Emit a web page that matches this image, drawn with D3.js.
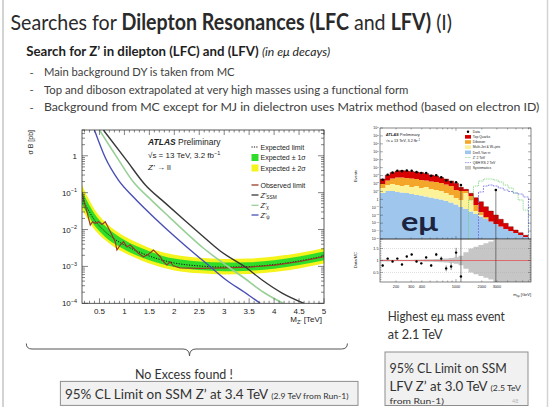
<!DOCTYPE html>
<html>
<head>
<meta charset="utf-8">
<script src="https://d3js.org/d3.v7.min.js"></script>
<style>
  body { margin: 0; background: #fff; }
  svg { display: block; }
</style>
</head>
<body>
<svg id="slide" width="550" height="407"></svg>
<script>
// ---------- limit plot (left) ----------
var limitMass = [0.15, 0.2, 0.3, 0.4, 0.5, 0.6, 0.8, 1.0, 1.25, 1.5, 1.75, 2.0, 2.5, 3.0, 3.5, 4.0, 4.5, 5.0];
var expLimit = [0.0715, 0.0522, 0.0298, 0.0181, 0.01245, 0.0091, 0.00553, 0.0038, 0.00261, 0.00191, 0.00149, 0.00124, 0.00103, 0.00096, 0.00099, 0.00112, 0.0014, 0.00191];
var exp1Up = [0.1133, 0.0809, 0.0451, 0.0268, 0.0180, 0.01315, 0.00781, 0.00524, 0.00352, 0.00258, 0.00196, 0.00163, 0.00136, 0.00127, 0.00130, 0.00148, 0.00185, 0.00252];
var exp1Down = [0.0483, 0.0361, 0.0211, 0.0128, 0.00902, 0.00659, 0.0041, 0.00288, 0.00198, 0.00148, 0.00116, 0.00096, 0.0008, 0.000745, 0.000769, 0.00087, 0.00109, 0.00148];
var exp2Up = [0.1638, 0.1142, 0.0609, 0.0353, 0.02318, 0.01656, 0.00983, 0.0066, 0.00443, 0.00317, 0.00247, 0.00206, 0.00171, 0.00159, 0.00164, 0.00186, 0.00232, 0.00317];
var exp2Down = [0.0358, 0.0268, 0.016, 0.00995, 0.00716, 0.00536, 0.00333, 0.00234, 0.00165, 0.0012, 0.00094, 0.00078, 0.00065, 0.000606, 0.000625, 0.000707, 0.00088, 0.0012];

var obsMass = [0.15, 0.17, 0.25, 0.316, 0.362, 0.416, 0.482, 0.55, 0.616, 0.682, 0.75, 0.816, 0.85, 0.916, 0.982, 1.05, 1.116, 1.182, 1.282, 1.382, 1.482, 1.582, 1.65, 1.716, 1.782, 1.85, 1.916, 1.98, 2.116, 2.516, 3.016, 3.516, 4.016, 4.516, 5.0];
var obsLimit = [0.1, 0.075, 0.0303, 0.0132, 0.0163, 0.0147, 0.0163, 0.0138, 0.0163, 0.0108, 0.0071, 0.00467, 0.00278, 0.0038, 0.00467, 0.00342, 0.0038, 0.0031, 0.00226, 0.00183, 0.00213, 0.00278, 0.00226, 0.00183, 0.00134, 0.00109, 0.00132, 0.00104, 0.00091, 0.00088, 0.00091, 0.00096, 0.00109, 0.00136, 0.00185];

var ssmMass = [0.58, 1.04, 1.42, 1.82, 2.2, 2.52, 2.92, 3.45, 3.76, 4.16, 4.6];
var ssmXsec = [4.97, 0.76, 0.161, 0.052, 0.0181, 0.00755, 0.00261, 0.000906, 0.000428, 0.00019, 0.0001];
var chiMass = [0.5, 0.86, 1.18, 1.54, 1.9, 2.2, 2.58, 3.08, 3.4, 3.78, 4.18];
var chiXsec = [4.97, 0.867, 0.194, 0.063, 0.0218, 0.0091, 0.00316, 0.00098, 0.000485, 0.000202, 0.0001];
var psiMass = [0.4, 0.62, 0.88, 1.18, 1.5, 1.82, 2.18, 2.72, 3.04, 3.4, 3.72];
var psiXsec = [4.97, 0.867, 0.219, 0.076, 0.028, 0.011, 0.00405, 0.00098, 0.000428, 0.000202, 0.0001];

var limitXTicks = [0.5, 1, 1.5, 2, 2.5, 3, 3.5, 4, 4.5, 5];
var limitYTicks = [1, 1e-1, 1e-2, 1e-3, 1e-4];

// ---------- e-mu mass plot (right) ----------
var binEdges = [130, 150, 170, 195, 220, 250, 285, 325, 370, 420, 480, 550, 630, 720, 820, 940, 1070, 1220, 1400, 1600, 1830, 2090, 2390, 2730, 3120, 3560, 4070, 4650, 5310, 6070, 7000];
var dyTauTau = [6.3, 11.3, 11.3, 8.5, 7.3, 6.3, 4.7, 3.5, 3.1, 2.3, 1.7, 1.3, 0.96, 0.62, 0.40, 0.22, 0.11, 0.061, 0.029, 0.0142, 0.0069, 0.0033, 0.0016, 0.00078, 0.00038, 0.00018, 0.0001, 0.000057, 0.000032, 0.000018];
var multiJet = [20.7, 53, 75, 56, 41, 58, 31, 45, 24, 34, 18.5, 13.8, 10.3, 5.7, 3.1, 1.26, 0.72, 6.2, 0.8, 0.02, 0.0037, 0.0005, 0, 0, 0, 0, 0, 0, 0, 0];
var diboson = [59, 174, 340, 505, 521, 428, 390, 320, 248, 202, 158, 139, 104, 68, 44.7, 13.6, 10.5, 5.0, 1.81, 0.16, 0.0148, 0.0021, 0, 0, 0, 0, 0, 0, 0, 0];
var topQuark = [282, 937, 2000, 3190, 3780, 3270, 2820, 2440, 2155, 1580, 997, 726, 454, 294, 158, 91, 21.7, 7.2, 3.16, 1.42, 0.48, 0.112, 0.032, 0.0098, 0.0027, 0.00077, 0.00026, 0.000079, 0.00003, 0.000011];
var dataEvents = [291, 1269, 2333, 4061, 3606, 4399, 4063, 2698, 2138, 2057, 928, 1100, 615, 247, 155, 141, 64, null, null, null, null, null, null, 15, null, null, null, null, null, null];
var dataLower = [null, null, null, null, null, null, null, null, null, null, null, null, null, null, null, null, 1e-6, null, null, null, null, null, null, 1e-6, null, null, null, null, null, null];
var zPrime2TeV = [null, null, null, null, null, null, null, null, null, null, null, null, null, null, null, null, null, null, 0.83, 48, 206, 368, 368, 275, 154, 64, 27, 6.3, 0.83, 0.045];
var qbhRS2TeV = [null, null, null, null, null, null, null, null, null, null, null, null, null, null, null, null, null, null, null, null, 8.45, 48, 64, 48, 27, 15.1, 9.8, 6.3, 4.7, 2.0];
var ratioVal = [0.79, 1.08, 0.96, 1.08, 0.83, 1.17, 1.25, 0.96, 0.88, 1.13, 0.79, 1.25, 1.08, 0.67, 0.75, 1.33, 0.33, null, null, null, null, null, null, 1400, null, null, null, null, null, null];
var ratioErrUp = [0.05, 0.03, 0.03, 0.03, 0.03, 0.03, 0.03, 0.04, 0.04, 0.05, 0.06, 0.07, 0.09, 0.12, 0.15, 0.2, 2.0, null, null, null, null, null, null, 10000, null, null, null, null, null, null];
var ratioErrDown = [0.05, 0.03, 0.03, 0.03, 0.03, 0.03, 0.03, 0.04, 0.04, 0.05, 0.06, 0.07, 0.09, 0.12, 0.15, 0.2, 0.25, null, null, null, null, null, null, 1400, null, null, null, null, null, null];
var systRel = [0.04, 0.04, 0.03, 0.03, 0.03, 0.03, 0.03, 0.04, 0.04, 0.05, 0.05, 0.06, 0.07, 0.08, 0.1, 0.14, 0.2, 0.35, 0.5, 0.58, 0.65, 0.72, 0.8, 1, 1, 1, 1, 1, 1, 1];
var massXLabels = [200, 300, 400, 1000, 2000, 3000];
var ratioYLabels = [0.5, 1, 1.5];

var PLOT_FONT = "'Liberation Sans', Arial, sans-serif";
var SLIDE_FONT = "Lato, 'Open Sans', sans-serif";

var svg = d3.select("#slide");
svg.append("rect").attr("width", 550).attr("height", 407).attr("fill", "#fff");
svg.append("line").attr("x1", 3).attr("x2", 3).attr("y1", 0).attr("y2", 407).attr("stroke", "#c4c4c4").attr("stroke-width", 1.5);
svg.append("line").attr("x1", 547.5).attr("x2", 547.5).attr("y1", 0).attr("y2", 407).attr("stroke", "#d4d4d4").attr("stroke-width", 1.5);

/* squeeze a text element horizontally so it spans w pixels */
function fit(t, w) {
    var len = t.node().getComputedTextLength();
    var x = +t.attr("x"), y = +t.attr("y");
    t.attr("transform", "translate(" + x + "," + y + ") scale(" + (w / len) + ",1) translate(" + (-x) + "," + (-y) + ")");
}

function slideText(x, y, size, parts, width, color) {
    var t = svg.append("text")
        .attr("x", x).attr("y", y)
        .attr("font-family", SLIDE_FONT)
        .attr("font-size", size)
        .attr("fill", color || "#333");
    parts.forEach(function (p) {
        t.append("tspan").text(p.t)
            .attr("font-weight", p.b ? "bold" : null)
            .attr("font-style", p.i ? "italic" : null)
            .attr("font-size", p.s || null);
    });
    if (width) fit(t, width);
    return t;
}

// power of ten label: "10" with superscript
function powLabel(g, x, y, exp, size, anchor) {
    var t = g.append("text").attr("x", x).attr("y", y)
        .attr("font-family", PLOT_FONT).attr("font-size", size)
        .attr("text-anchor", anchor || "end").attr("fill", "#222");
    if (exp == 0) { t.text("1"); return t; }
    t.append("tspan").text("10");
    t.append("tspan").text(exp).attr("font-size", size * 0.68).attr("dy", -size * 0.4);
    return t;
}

function logTicks(lo, hi) {
    var out = [];
    for (var e = Math.floor(Math.log10(lo)); e <= Math.ceil(Math.log10(hi)); e++) {
        for (var k = 1; k < 10; k++) {
            var v = k * Math.pow(10, e);
            if (v >= lo * 0.999 && v <= hi * 1.001) out.push({v: v, major: k == 1});
        }
    }
    return out;
}

// ---------- slide texts ----------
slideText(10.5, 30, 22, [{t: "Searches for "}, {t: "Dilepton Resonances (LFC", b: 1}, {t: " and "}, {t: "LFV)", b: 1}, {t: " (I)"}], 442, "#2a2a2a");
slideText(26.3, 56.5, 12.5, [{t: "Search for Z\u2019 in dilepton (LFC) and (LFV) ", b: 1}, {t: "(in e\u03bc decays)", i: 1, s: 11.5}], 304, "#1e1e1e");

var bullets = [
    ["Main background DY is taken from MC", 76.5, 191],
    ["Top and diboson extrapolated at very high masses using a functional form", 94, 365],
    ["Background from MC except for MJ in dielectron uses Matrix method (based on electron ID)", 111.5, 496]
];
bullets.forEach(function (b) {
    slideText(29.5, b[1], 11.5, [{t: "-"}], null, "#555");
    slideText(43.9, b[1], 11.5, [{t: b[0]}], b[2], "#404040");
});

// ---------- left plot ----------
var xM = d3.scaleLinear().domain([0.15, 5]).range([82, 324]);
var yM = d3.scaleLog().domain([1e-4, 5]).range([303.3, 130]);

var defs = svg.append("defs");
defs.append("clipPath").attr("id", "clipM").append("rect")
    .attr("x", 82).attr("y", 130).attr("width", 242).attr("height", 173.3);

var gM = svg.append("g");
var gMc = gM.append("g").attr("clip-path", "url(#clipM)");

var band = function (up, down) {
    return d3.area()
        .x(function (d, i) { return xM(limitMass[i]); })
        .y0(function (d, i) { return yM(down[i]); })
        .y1(function (d, i) { return yM(up[i]); })
        .curve(d3.curveMonotoneX);
};
gMc.append("path").datum(limitMass).attr("d", band(exp2Up, exp2Down)).attr("fill", "#f5f31c");
gMc.append("path").datum(limitMass).attr("d", band(exp1Up, exp1Down)).attr("fill", "#2fdc2a");

gMc.append("path").datum(limitMass)
    .attr("d", d3.line().x(function (d, i) { return xM(limitMass[i]); }).y(function (d, i) { return yM(expLimit[i]); }).curve(d3.curveMonotoneX))
    .attr("fill", "none").attr("stroke", "#111").attr("stroke-width", 1).attr("stroke-dasharray", "1.2,1.4");

gMc.append("path").datum(obsMass)
    .attr("d", d3.line().x(function (d, i) { return xM(obsMass[i]); }).y(function (d, i) { return yM(obsLimit[i]); }))
    .attr("fill", "none").attr("stroke", "#9a3a26").attr("stroke-width", 1.2);

var theory = [
    {m: psiMass, s: psiXsec, c: "#4a4fb5", w: 1.4},
    {m: chiMass, s: chiXsec, c: "#98d098", w: 1.6},
    {m: ssmMass, s: ssmXsec, c: "#383838", w: 1.4}
];
theory.forEach(function (th) {
    gMc.append("path").datum(th.m)
        .attr("d", d3.line().x(function (d, i) { return xM(th.m[i]); }).y(function (d, i) { return yM(th.s[i]); }).curve(d3.curveMonotoneX))
        .attr("fill", "none").attr("stroke", th.c).attr("stroke-width", th.w);
});

// frame and ticks
gM.append("rect").attr("x", 82).attr("y", 130).attr("width", 242).attr("height", 173.3)
    .attr("fill", "none").attr("stroke", "#333").attr("stroke-width", 0.8);

var xMinor = d3.range(2, 51).map(function (k) { return k / 10; });
xMinor.forEach(function (v) {
    var major = Math.abs(v * 2 - Math.round(v * 2)) < 1e-6;
    var len = major ? 5 : 2.5;
    gM.append("line").attr("x1", xM(v)).attr("x2", xM(v)).attr("y1", 303.3).attr("y2", 303.3 - len).attr("stroke", "#333").attr("stroke-width", 0.6);
    gM.append("line").attr("x1", xM(v)).attr("x2", xM(v)).attr("y1", 130).attr("y2", 130 + len).attr("stroke", "#333").attr("stroke-width", 0.6);
});
logTicks(1e-4, 5).forEach(function (t) {
    var len = t.major ? 6 : 3;
    gM.append("line").attr("x1", 82).attr("x2", 82 + len).attr("y1", yM(t.v)).attr("y2", yM(t.v)).attr("stroke", "#333").attr("stroke-width", 0.6);
    gM.append("line").attr("x1", 324).attr("x2", 324 - len).attr("y1", yM(t.v)).attr("y2", yM(t.v)).attr("stroke", "#333").attr("stroke-width", 0.6);
});
limitXTicks.forEach(function (v) {
    gM.append("text").attr("x", xM(v)).attr("y", 313.5).attr("text-anchor", "middle")
        .attr("font-family", PLOT_FONT).attr("font-size", 8).attr("fill", "#222").text(v);
});
limitYTicks.forEach(function (v) {
    powLabel(gM, 77, yM(v) + 3, Math.round(Math.log10(v)) == 0 ? 0 : "\u2212" + (-Math.round(Math.log10(v))), 8);
});

var xt = gM.append("text").attr("x", 322).attr("y", 322).attr("text-anchor", "end")
    .attr("font-family", PLOT_FONT).attr("font-size", 8).attr("fill", "#222");
xt.append("tspan").text("M");
xt.append("tspan").text("Z\u2019").attr("font-size", 5.5).attr("dy", 2);
xt.append("tspan").text(" [TeV]").attr("dy", -2);

gM.append("text").attr("transform", "translate(33,130) rotate(-90)").attr("text-anchor", "end")
    .attr("font-family", PLOT_FONT).attr("font-size", 7).attr("fill", "#222").text("\u03c3 B [pb]");

// ATLAS label
var at = gM.append("text").attr("x", 148).attr("y", 145).attr("font-family", PLOT_FONT).attr("font-size", 8.5).attr("fill", "#222");
at.append("tspan").text("ATLAS").attr("font-weight", "bold").attr("font-style", "italic");
at.append("tspan").text(" Preliminary");
var at2 = gM.append("text").attr("x", 148).attr("y", 158).attr("font-family", PLOT_FONT).attr("font-size", 8).attr("fill", "#222");
at2.append("tspan").text("\u221as = 13 TeV, 3.2 fb");
at2.append("tspan").text("\u22121").attr("font-size", 5.5).attr("dy", -3);
var at3 = gM.append("text").attr("x", 148).attr("y", 170).attr("font-family", PLOT_FONT).attr("font-size", 8).attr("fill", "#222");
at3.append("tspan").text("Z\u2019").attr("font-style", "italic");
at3.append("tspan").text(" \u2192 ll");

// legend
var legM = [
    {y: 147, kind: "dash", c: "#111", label: "Expected limit"},
    {y: 157.5, kind: "box", c: "#2fdc2a", label: "Expected \u00b1 1\u03c3"},
    {y: 168, kind: "box", c: "#f5f31c", label: "Expected \u00b1 2\u03c3"},
    {y: 185, kind: "line", c: "#9a3a26", label: "Observed limit"},
    {y: 195, kind: "line", c: "#383838", label: "Z\u2019", sub: "SSM"},
    {y: 205.3, kind: "line", c: "#98d098", label: "Z\u2019", sub: "\u03c7"},
    {y: 215, kind: "line", c: "#4a4fb5", label: "Z\u2019", sub: "\u03c8"}
];
legM.forEach(function (l) {
    if (l.kind == "box") {
        gM.append("rect").attr("x", 251.5).attr("y", l.y - 3.5).attr("width", 7).attr("height", 7).attr("fill", l.c);
    } else {
        gM.append("line").attr("x1", 251.5).attr("x2", 258.5).attr("y1", l.y).attr("y2", l.y)
            .attr("stroke", l.c).attr("stroke-width", l.kind == "dash" ? 1 : 1.3)
            .attr("stroke-dasharray", l.kind == "dash" ? "1.2,1.2" : null);
    }
    var t = gM.append("text").attr("x", 260.5).attr("y", l.y + 2.5)
        .attr("font-family", PLOT_FONT).attr("font-size", 7).attr("fill", "#222");
    if (l.sub) {
        t.append("tspan").text(l.label).attr("font-style", "italic");
        t.append("tspan").text(l.sub).attr("font-size", 4.8).attr("dy", 1.5);
    } else {
        t.text(l.label);
    }
});

// ---------- right plot ----------
var xR = d3.scaleLog().domain([130, 7500]).range([380, 531]);
var yR = d3.scaleLog().domain([1e-5, 1e9]).range([239, 128]).clamp(true);
var yRat = d3.scaleLinear().domain([0.1, 1.9]).range([282, 239]);

defs.append("clipPath").attr("id", "clipR").append("rect").attr("x", 380).attr("y", 128).attr("width", 151).attr("height", 111);
defs.append("clipPath").attr("id", "clipRat").append("rect").attr("x", 380).attr("y", 239).attr("width", 151).attr("height", 43);

var gR = svg.append("g");
var gRc = gR.append("g").attr("clip-path", "url(#clipR)");

var bins = binEdges.slice(0, -1).map(function (lo, i) {
    return {lo: lo, hi: binEdges[i + 1], dy: dyTauTau[i], mj: multiJet[i], vv: diboson[i], top: topQuark[i]};
});
var stack = d3.stack().keys(["dy", "mj", "vv", "top"])(bins);
var layerColor = {dy: "#9fc7ee", mj: "#fbf29a", vv: "#f3a62a", top: "#d80000"};

function stepPoints(arr) {
    var pts = arr.map(function (d) { return {x: d.data.lo, y0: d[0], y1: d[1]}; });
    var last = arr[arr.length - 1];
    pts.push({x: last.data.hi, y0: last[0], y1: last[1]});
    return pts;
}
var stepArea = d3.area()
    .x(function (d) { return xR(d.x); })
    .y0(function (d) { return yR(Math.max(d.y0, 1e-6)); })
    .y1(function (d) { return yR(Math.max(d.y1, 1e-6)); })
    .curve(d3.curveStepAfter);
stack.forEach(function (layer) {
    gRc.append("path").datum(stepPoints(layer)).attr("d", stepArea).attr("fill", layerColor[layer.key]);
});
// dark outline on top of the stack
gRc.append("path").datum(stepPoints(stack[3]))
    .attr("d", d3.line().x(function (d) { return xR(d.x); }).y(function (d) { return yR(d.y1); }).curve(d3.curveStepAfter))
    .attr("fill", "none").attr("stroke", "#6a0000").attr("stroke-width", 0.4);

// signal histograms
function signalPath(vals) {
    var pts = [];
    var first = -1, last = -1;
    vals.forEach(function (v, i) {
        if (v == null) return;
        if (first < 0) { first = i; pts.push({x: binEdges[i], v: 1e-6}); }
        pts.push({x: binEdges[i], v: v});
        last = i;
    });
    pts.push({x: binEdges[last + 1], v: vals[last]});
    pts.push({x: binEdges[last + 1], v: 1e-6});
    return d3.line().x(function (d) { return xR(d.x); }).y(function (d) { return yR(d.v); }).curve(d3.curveLinear)(
        pts.reduce(function (acc, p, i) {
            if (i > 0 && p.x != acc[acc.length - 1].x) acc.push({x: p.x, v: acc[acc.length - 1].v});
            acc.push(p);
            return acc;
        }, []));
}
gRc.append("path").attr("d", signalPath(zPrime2TeV)).attr("fill", "none").attr("stroke", "#6ccf6c").attr("stroke-width", 0.8).attr("stroke-dasharray", "1,0.8");
gRc.append("path").attr("d", signalPath(qbhRS2TeV)).attr("fill", "none").attr("stroke", "#7070e0").attr("stroke-width", 0.8).attr("stroke-dasharray", "2,1");

// big e-mu label
var emu = svg.append("text").attr("x", 401).attr("y", 231).attr("font-family", SLIDE_FONT)
    .attr("font-weight", "bold").attr("font-size", 27).attr("fill", "#1b2440").text("e\u03bc");
fit(emu, 37);

// data points
dataEvents.forEach(function (n, i) {
    if (n == null) return;
    var cx = xR(Math.sqrt(binEdges[i] * binEdges[i + 1]));
    if (dataLower[i] != null) {
        gRc.append("line").attr("x1", cx).attr("x2", cx).attr("y1", yR(n)).attr("y2", yR(dataLower[i]))
            .attr("stroke", "#333").attr("stroke-width", 0.6);
    }
    gRc.append("circle").attr("cx", cx).attr("cy", yR(n)).attr("r", 1.3).attr("fill", "#000");
});

gR.append("rect").attr("x", 380).attr("y", 128).attr("width", 151).attr("height", 111)
    .attr("fill", "none").attr("stroke", "#333").attr("stroke-width", 0.6);

// ratio panel
var gRat = gR.append("g");
var gRatc = gRat.append("g").attr("clip-path", "url(#clipRat)");
var systPts = bins.map(function (b, i) { return {x: b.lo, y0: 1 - systRel[i], y1: 1 + systRel[i]}; });
systPts.push({x: binEdges[binEdges.length - 1], y0: 1 - systRel[systRel.length - 1], y1: 1 + systRel[systRel.length - 1]});
systPts.push({x: 7500, y0: 0, y1: 2});
gRatc.append("path").datum(systPts)
    .attr("d", d3.area().x(function (d) { return xR(d.x); }).y0(function (d) { return yRat(d.y0); }).y1(function (d) { return yRat(d.y1); }).curve(d3.curveStepAfter))
    .attr("fill", "#c6c6c6");
[0.5, 1.5].forEach(function (v) {
    gRatc.append("line").attr("x1", 380).attr("x2", 531).attr("y1", yRat(v)).attr("y2", yRat(v))
        .attr("stroke", "#aaa").attr("stroke-width", 0.4).attr("stroke-dasharray", "1,1");
});
gRatc.append("line").attr("x1", 380).attr("x2", 531).attr("y1", yRat(1)).attr("y2", yRat(1))
    .attr("stroke", "#e06060").attr("stroke-width", 0.9);
ratioVal.forEach(function (r, i) {
    if (r == null) return;
    var cx = xR(Math.sqrt(binEdges[i] * binEdges[i + 1]));
    gRatc.append("line").attr("x1", cx).attr("x2", cx)
        .attr("y1", yRat(Math.min(r + ratioErrUp[i], 3))).attr("y2", yRat(Math.max(r - ratioErrDown[i], -1)))
        .attr("stroke", "#333").attr("stroke-width", 0.6);
    if (r < 2) gRatc.append("circle").attr("cx", cx).attr("cy", yRat(r)).attr("r", 1.2).attr("fill", "#000");
});
gRat.append("rect").attr("x", 380).attr("y", 239).attr("width", 151).attr("height", 43)
    .attr("fill", "none").attr("stroke", "#333").attr("stroke-width", 0.6);

// right plot ticks
logTicks(130, 7500).forEach(function (t) {
    var len = t.major ? 3 : 1.5;
    [[239, -1], [128, 1], [282, -1]].forEach(function (s) {
        gR.append("line").attr("x1", xR(t.v)).attr("x2", xR(t.v)).attr("y1", s[0]).attr("y2", s[0] + s[1] * len)
            .attr("stroke", "#333").attr("stroke-width", 0.4);
    });
});
d3.range(-5, 10).forEach(function (e) {
    var y = yR(Math.pow(10, e));
    gR.append("line").attr("x1", 380).attr("x2", 383).attr("y1", y).attr("y2", y).attr("stroke", "#333").attr("stroke-width", 0.4);
    gR.append("line").attr("x1", 531).attr("x2", 528).attr("y1", y).attr("y2", y).attr("stroke", "#333").attr("stroke-width", 0.4);
    powLabel(gR, 378.5, y + 1.3, e < 0 ? "\u2212" + (-e) : e, 3.6);
});
d3.range(0.2, 1.85, 0.1).forEach(function (v) {
    var major = Math.abs(v * 2 - Math.round(v * 2)) < 1e-6;
    var len = major ? 3 : 1.5;
    gR.append("line").attr("x1", 380).attr("x2", 380 + len).attr("y1", yRat(v)).attr("y2", yRat(v)).attr("stroke", "#333").attr("stroke-width", 0.4);
    gR.append("line").attr("x1", 531).attr("x2", 531 - len).attr("y1", yRat(v)).attr("y2", yRat(v)).attr("stroke", "#333").attr("stroke-width", 0.4);
});
ratioYLabels.forEach(function (v) {
    gR.append("text").attr("x", 378.5).attr("y", yRat(v) + 1.3).attr("text-anchor", "end")
        .attr("font-family", PLOT_FONT).attr("font-size", 3.8).attr("fill", "#222").text(v);
});
massXLabels.forEach(function (v) {
    gR.append("text").attr("x", xR(v)).attr("y", 287.5).attr("text-anchor", "middle")
        .attr("font-family", PLOT_FONT).attr("font-size", 3.8).attr("fill", "#222").text(v);
});
var mt = gR.append("text").attr("x", 531).attr("y", 296).attr("text-anchor", "end")
    .attr("font-family", PLOT_FONT).attr("font-size", 4).attr("fill", "#222");
mt.append("tspan").text("m");
mt.append("tspan").text("e\u03bc").attr("font-size", 2.8).attr("dy", 1);
mt.append("tspan").text(" [GeV]").attr("dy", -1);
gR.append("text").attr("transform", "translate(357,176) rotate(-90)").attr("text-anchor", "middle")
    .attr("font-family", PLOT_FONT).attr("font-size", 4).attr("fill", "#222").text("Events");
gR.append("text").attr("transform", "translate(357,260) rotate(-90)").attr("text-anchor", "middle")
    .attr("font-family", PLOT_FONT).attr("font-size", 4).attr("fill", "#222").text("Data/MC");

var rat1 = gR.append("text").attr("x", 385.7).attr("y", 136).attr("font-family", PLOT_FONT).attr("font-size", 4).attr("fill", "#222");
rat1.append("tspan").text("ATLAS").attr("font-weight", "bold").attr("font-style", "italic");
rat1.append("tspan").text(" Preliminary");
var rat2 = gR.append("text").attr("x", 385.7).attr("y", 142).attr("font-family", PLOT_FONT).attr("font-size", 3.8).attr("fill", "#222");
rat2.append("tspan").text("\u221as = 13 TeV, 3.2 fb");
rat2.append("tspan").text("\u22121").attr("font-size", 2.6).attr("dy", -1.4);

var legR = [
    {kind: "dot", label: "Data"},
    {kind: "box", c: "#d80000", label: "Top Quarks"},
    {kind: "box", c: "#f3a62a", label: "Diboson"},
    {kind: "box", c: "#fbf29a", label: "Multi-Jet & W+jets"},
    {kind: "box", c: "#9fc7ee", label: "Drell-Yan \u03c4\u03c4"},
    {kind: "dot-line", c: "#6ccf6c", label: "Z\u2019 2 TeV"},
    {kind: "dash-line", c: "#7070e0", label: "QBH RS 2 TeV"},
    {kind: "box", c: "#c6c6c6", label: "Systematics"}
];
legR.forEach(function (l, i) {
    var y = 131.7 + i * 5.15;
    if (l.kind == "dot") {
        gR.append("circle").attr("cx", 468).attr("cy", y).attr("r", 1.2).attr("fill", "#000");
    } else if (l.kind == "box") {
        gR.append("rect").attr("x", 465).attr("y", y - 1.8).attr("width", 6).attr("height", 3.6).attr("fill", l.c);
    } else {
        gR.append("line").attr("x1", 465).attr("x2", 471).attr("y1", y).attr("y2", y).attr("stroke", l.c).attr("stroke-width", 0.7)
            .attr("stroke-dasharray", l.kind == "dot-line" ? "0.8,0.6" : "1.6,0.8");
    }
    gR.append("text").attr("x", 472.8).attr("y", y + 1.2).attr("font-family", PLOT_FONT).attr("font-size", 3.4)
        .attr("fill", "#222").text(l.label);
});

// ---------- bottom notes ----------
svg.append("path")
    .attr("d", "M26.3,343.5 Q26.3,349 32,349 L183,349 Q189.5,349 189.5,356 Q189.5,349 196,349 L341.5,349 Q347.4,349 347.4,343.5")
    .attr("fill", "none").attr("stroke", "#555").attr("stroke-width", 1);
slideText(135, 379, 12.5, [{t: "No Excess found !"}], 98, "#333");

svg.append("rect").attr("x", 60.4).attr("y", 381.4).attr("width", 297.6).attr("height", 24)
    .attr("fill", "#f1f1f1").attr("stroke", "#8e8e8e").attr("stroke-width", 1);
slideText(65, 399, 12.5, [{t: "95% CL Limit on SSM Z\u2019 at 3.4 TeV "}, {t: "(2.9 TeV from Run-1)", s: 8}], 284, "#333");

slideText(387.7, 321.5, 13, [{t: "Highest e\u03bc mass event"}], 117.3, "#333");
slideText(387.7, 339.5, 13, [{t: "at 2.1 TeV"}], 55, "#333");

svg.append("rect").attr("x", 385).attr("y", 352).attr("width", 143).attr("height", 53.5)
    .attr("fill", "#f1f1f1").attr("stroke", "#8e8e8e").attr("stroke-width", 1);
slideText(389.5, 373.5, 13, [{t: "95% CL Limit on SSM"}], 117.5, "#333");
slideText(389.5, 391.5, 13, [{t: "LFV Z\u2019 at 3.0 TeV "}, {t: "(2.5 TeV", s: 8.5}], 131.5, "#333");
slideText(389.5, 404, 8.5, [{t: "from Run-1)"}], 54.5, "#333");
slideText(512, 403, 5.5, [{t: "48"}], null, "#b8b8b8");
</script>
</body>
</html>
